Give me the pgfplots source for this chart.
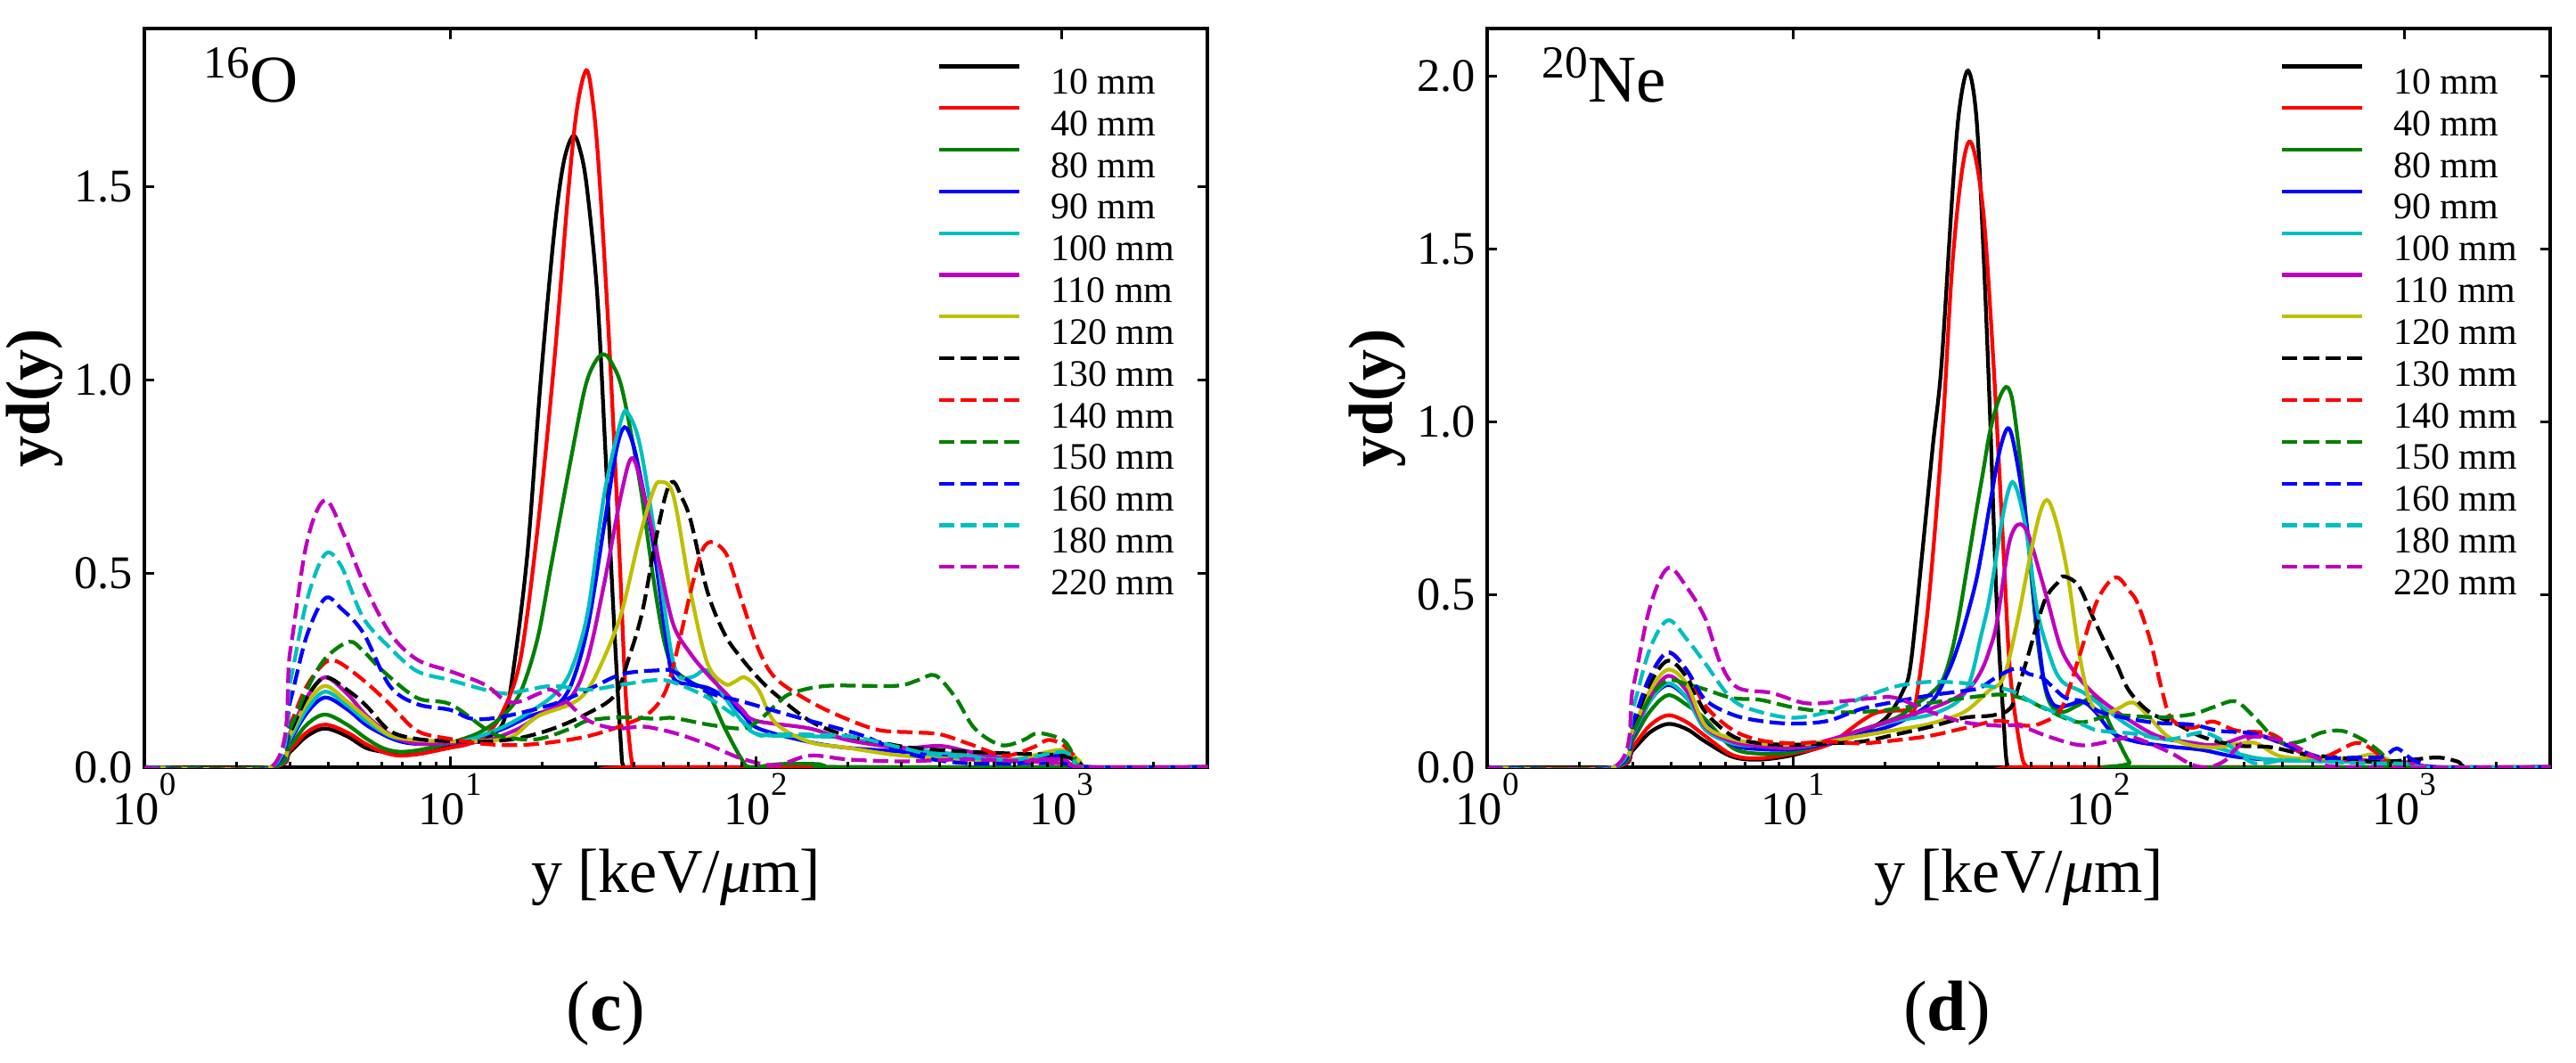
\documentclass[border=0pt]{standalone}
\usepackage{fontspec}
\setmainfont{Liberation Serif}
\usepackage{pgfplots}
\pgfplotsset{compat=1.18}

\definecolor{mplg}{rgb}{0,0.5,0}
\definecolor{mplc}{rgb}{0,0.75,0.75}
\definecolor{mplm}{rgb}{0.75,0,0.75}
\definecolor{mply}{rgb}{0.75,0.75,0}

\newcommand{\tk}[1]{10\raisebox{6.6pt}{\fontsize{7.4}{8}\selectfont #1}}

\pgfplotsset{
  legend image code/.code={\draw[line width=0.85pt, #1] (0pt,3.2pt) -- (18pt,3.2pt); \path (24.6pt,0pt);},
}

\begin{document}
\begin{tikzpicture}
\useasboundingbox (-32.4pt,-66.2pt) rectangle (545.8pt,172.2pt);

% ---------------- (c) 16O ----------------
\begin{axis}[
    scale only axis, width=238.6pt, height=165.8pt,
    xmode=log, xmin=1, xmax=3000, ymin=0, ymax=1.908,
    xtick={1,10,100,1000},
    xticklabels={\tk{0},\tk{1},\tk{2},\tk{3}},
    ytick={0,0.5,1,1.5}, yticklabels={0.0,0.5,1.0,1.5},
    tick align=inside,
    xtick pos=both, ytick pos=both,
    major tick length=2.3pt,
    minor tick length=0pt,
    every tick/.append style={black, line width=0.6pt},
    axis line style={line width=0.66pt},
    tick label style={font=\fontsize{10.5}{12}\selectfont},
    xticklabel style={anchor=north, inner sep=0pt, yshift=-1.2pt},
    yticklabel style={anchor=east, inner sep=0pt, xshift=-2.4pt},
    xlabel={y [keV/{\itshape μ}m]},
    ylabel={\textbf{yd(y)}},
    every axis x label/.style={at={(axis description cs:0.5,-0.170)}, anchor=base, font=\fontsize{14}{16}\selectfont, inner sep=0pt},
    every axis y label/.style={at={(axis description cs:-0.089,0.5)}, anchor=base, rotate=90, font=\fontsize{14}{16}\selectfont, inner sep=0pt},
    title={(\textbf{c})},
    every axis title/.style={at={(axis description cs:0.434,-0.357)}, anchor=base, font=\fontsize{16}{19}\selectfont, inner sep=0pt},
    legend style={at={(rel axis cs:0.746,0.9514)}, anchor=north west, draw=none, fill=none, inner sep=0pt, outer sep=0pt, row sep=2.74pt, font=\fontsize{8.4}{9}\selectfont, nodes={inner sep=0pt, text height=6pt, text depth=0pt}},
    legend cell align=left,
    every axis plot/.append style={line width=0.85pt, smooth, tension=0.55},
  ]
\addplot[black] coordinates {(1,0) (2.6,0) (3.0,0.04) (3.4,0.08) (3.9,0.10) (4.6,0.08) (5.3,0.05) (6.0,0.04) (6.8,0.032) (8.0,0.035) (10,0.053) (12,0.065) (13.5,0.08) (15,0.12) (16.1,0.25) (17.9,0.55) (19.8,1.0) (21.9,1.38) (23.5,1.56) (25.2,1.63) (26.5,1.60) (28,1.50) (30.3,1.22) (32.3,0.80) (34.4,0.37) (36.2,0.06) (37,0) (40,0) (3000,0)};
\addlegendentry{10 mm}
\addplot[red] coordinates {(1,0) (2.6,0) (3.0,0.045) (3.4,0.09) (3.9,0.11) (4.6,0.09) (5.3,0.06) (6.0,0.04) (6.8,0.03) (8.0,0.035) (10,0.05) (11.5,0.06) (13.1,0.083) (14.9,0.145) (17,0.28) (19.3,0.61) (21.9,1.045) (24.3,1.476) (26,1.70) (27.9,1.80) (29.3,1.72) (30.7,1.54) (33.1,1.107) (35.8,0.552) (37.6,0.18) (39.6,0) (42,0) (3000,0)};
\addlegendentry{40 mm}
\addplot[mplg] coordinates {(1,0) (2.6,0) (3.0,0.055) (3.4,0.11) (3.9,0.136) (4.6,0.11) (5.3,0.075) (6.0,0.05) (6.8,0.04) (8.0,0.045) (10.2,0.065) (12.5,0.09) (14.9,0.133) (17,0.194) (19.3,0.33) (21.4,0.52) (24.9,0.80) (27.7,0.983) (30,1.05) (32,1.066) (34,1.04) (36.7,0.97) (41.7,0.737) (46.2,0.49) (50,0.33) (53.8,0.256) (61.2,0.22) (69.5,0.194) (79.3,0.10) (90,0.02) (96,0) (120,0.008) (160,0.008) (200,0) (3000,0)};
\addlegendentry{80 mm}
\addplot[blue] coordinates {(1,0) (2.6,0) (3.0,0.07) (3.4,0.14) (3.9,0.18) (4.6,0.15) (5.3,0.11) (6.2,0.08) (7,0.065) (8,0.06) (10,0.063) (12,0.075) (15,0.10) (18,0.13) (21.8,0.155) (24.8,0.21) (28.2,0.362) (32,0.63) (35,0.82) (37.2,0.878) (39.5,0.84) (41.7,0.76) (46.2,0.576) (51.2,0.318) (53.8,0.23) (61.2,0.213) (69.5,0.205) (79.3,0.18) (90,0.14) (102,0.10) (150,0.065) (200,0.05) (300,0.04) (500,0.025) (700,0.015) (1000,0.03) (1150,0.01) (1250,0) (3000,0)};
\addlegendentry{90 mm}
\addplot[mplc] coordinates {(1,0) (2.6,0) (3.0,0.075) (3.4,0.15) (3.9,0.195) (4.6,0.16) (5.3,0.12) (6.2,0.085) (7,0.07) (8,0.062) (10,0.063) (12,0.075) (15,0.105) (18,0.14) (21.8,0.186) (24.8,0.248) (28.2,0.40) (32,0.708) (36.4,0.90) (38.4,0.911) (41.7,0.835) (46.2,0.626) (51.2,0.367) (53.8,0.27) (56.7,0.23) (62.9,0.235) (69.5,0.25) (79.3,0.18) (90,0.12) (102,0.085) (150,0.08) (200,0.075) (300,0.05) (500,0.03) (700,0.02) (1000,0.04) (1150,0.01) (1250,0) (3000,0)};
\addlegendentry{100 mm}
\addplot[mplm] coordinates {(1,0) (2.6,0) (3.0,0.09) (3.4,0.18) (3.9,0.232) (4.6,0.19) (5.3,0.135) (6.2,0.09) (7,0.07) (8,0.06) (10,0.063) (13,0.068) (16.8,0.10) (20,0.14) (24.8,0.18) (28.2,0.28) (32,0.478) (36.4,0.71) (39.6,0.798) (43.9,0.675) (48.7,0.515) (53.8,0.367) (61.2,0.293) (69.5,0.24) (80,0.19) (90,0.15) (100,0.12) (150,0.10) (200,0.07) (300,0.05) (400,0.055) (500,0.04) (700,0.02) (1000,0.02) (1200,0) (3000,0)};
\addlegendentry{110 mm}
\addplot[mply] coordinates {(1,0) (2.6,0) (3.0,0.085) (3.4,0.165) (3.9,0.21) (4.6,0.17) (5.3,0.13) (6.35,0.083) (7.8,0.07) (10,0.067) (13,0.068) (16,0.079) (19.2,0.13) (24.8,0.163) (28.2,0.20) (32,0.285) (36.4,0.40) (41.4,0.585) (46,0.71) (48.7,0.737) (53.8,0.70) (61.2,0.453) (69.5,0.268) (79.3,0.215) (85,0.22) (92,0.232) (102,0.20) (116,0.114) (150,0.065) (200,0.05) (300,0.03) (500,0.02) (700,0.02) (1000,0.045) (1150,0.015) (1250,0) (3000,0)};
\addlegendentry{120 mm}
\addplot[black, dash pattern=on 3.46pt off 1.4pt] coordinates {(1,0) (2.6,0) (3.0,0.09) (3.4,0.18) (3.9,0.232) (4.6,0.20) (5.3,0.16) (6.35,0.094) (7.8,0.073) (10,0.067) (13,0.066) (16.8,0.075) (21.8,0.10) (28.2,0.139) (34.6,0.186) (38.3,0.278) (42.5,0.40) (47,0.585) (51,0.71) (53.8,0.737) (57,0.70) (61.2,0.638) (69.5,0.453) (79.3,0.342) (90,0.28) (102,0.23) (116,0.188) (150,0.12) (195,0.083) (252,0.065) (325,0.05) (500,0.04) (700,0.035) (1000,0.03) (1150,0.01) (1250,0) (3000,0)};
\addlegendentry{130 mm}
\addplot[red, dash pattern=on 3.46pt off 1.4pt] coordinates {(1,0) (2.6,0) (3.0,0.11) (3.4,0.21) (3.9,0.27) (4.3,0.272) (5.2,0.225) (6.35,0.163) (7.8,0.094) (10,0.073) (13,0.06) (16.8,0.057) (21.8,0.065) (28.2,0.08) (36.4,0.107) (44.8,0.14) (50.9,0.20) (56,0.32) (61.2,0.453) (66,0.55) (70,0.58) (75,0.575) (81.3,0.54) (90,0.43) (102,0.305) (116,0.23) (150,0.17) (195,0.127) (252,0.096) (325,0.09) (400,0.085) (500,0.06) (650,0.03) (800,0.05) (900,0.07) (1000,0.06) (1100,0.03) (1200,0) (3000,0)};
\addlegendentry{140 mm}
\addplot[mplg, dash pattern=on 3.46pt off 1.4pt] coordinates {(1,0) (2.6,0) (3.0,0.10) (3.4,0.20) (3.9,0.28) (4.67,0.324) (5.2,0.30) (6.04,0.248) (7.8,0.179) (10,0.163) (13,0.10) (14.8,0.079) (19.2,0.072) (24.8,0.10) (28.2,0.12) (36.4,0.129) (47,0.125) (53.8,0.127) (70,0.11) (90,0.10) (102,0.12) (116,0.16) (130,0.19) (171,0.21) (286,0.21) (340,0.225) (387,0.237) (450,0.18) (520,0.10) (634,0.057) (750,0.07) (839,0.088) (1011,0.07) (1100,0.03) (1202,0) (3000,0)};
\addlegendentry{150 mm}
\addplot[blue, dash pattern=on 3.46pt off 1.4pt] coordinates {(1,0) (2.6,0) (3.0,0.17) (3.4,0.34) (3.9,0.436) (4.4,0.41) (5.2,0.347) (6.35,0.21) (7.8,0.163) (10,0.148) (11.8,0.125) (14.8,0.13) (21.8,0.163) (28.2,0.20) (36.4,0.24) (47.4,0.25) (53.8,0.247) (69.5,0.194) (90,0.17) (116,0.145) (150,0.12) (221,0.083) (286,0.046) (380,0.02) (500,0.01) (700,0.01) (1000,0.01) (1200,0) (3000,0)};
\addlegendentry{160 mm}
\addplot[mplc, dash pattern=on 3.46pt off 1.4pt] coordinates {(1,0) (2.6,0) (3.0,0.22) (3.4,0.43) (3.9,0.55) (4.4,0.52) (5.2,0.386) (6.35,0.309) (7.8,0.248) (10,0.225) (13,0.20) (15.2,0.19) (18,0.20) (21.8,0.21) (28.2,0.20) (36.4,0.213) (47,0.225) (53.8,0.219) (69.5,0.18) (90,0.12) (102,0.083) (116,0.085) (200,0.08) (300,0.05) (400,0.03) (700,0.02) (1000,0.04) (1100,0.02) (1200,0) (3000,0)};
\addlegendentry{180 mm}
\addplot[mplm, dash pattern=on 3.46pt off 1.4pt] coordinates {(1,0) (2.6,0) (3.0,0.30) (3.4,0.58) (3.9,0.69) (4.5,0.60) (5.2,0.478) (6.35,0.347) (7.8,0.278) (10,0.248) (13,0.213) (15.2,0.171) (17,0.17) (19.5,0.19) (21.5,0.20) (24,0.17) (28.4,0.12) (34.7,0.10) (41.7,0.105) (47,0.10) (56,0.085) (69.5,0.059) (90,0.022) (116,0.005) (150,0.03) (200,0.02) (300,0.015) (500,0.02) (1000,0.01) (1200,0) (3000,0)};
\addlegendentry{220 mm}
\node[anchor=base west, inner sep=0pt, font=\fontsize{15}{18}\selectfont] at (axis description cs:0.0553,0.900) {\raisebox{5.4pt}{\fontsize{10.3}{12}\selectfont 16}O};
\end{axis}
% minor ticks (bottom only)
\begin{axis}[
    scale only axis, width=238.6pt, height=165.8pt,
    xmode=log, xmin=1, xmax=3000, ymin=0, ymax=1,
    xtick={1,10,100,1000}, xticklabels={},
    minor xtick={2,3,4,5,6,7,8,9,20,30,40,50,60,70,80,90,200,300,400,500,600,700,800,900,2000},
    ytick=\empty, tick align=inside, xtick pos=left,
    major tick length=2.3pt, minor tick length=1.2pt,
    every tick/.append style={black, line width=0.6pt},
    axis line style={draw=none},
  ]
\end{axis}

% ---------------- (d) 20Ne ----------------
\begin{axis}[
    at={(301.4pt,0pt)}, anchor=south west,
    scale only axis, width=238.6pt, height=165.8pt,
    xmode=log, xmin=1, xmax=3000, ymin=0, ymax=2.137,
    xtick={1,10,100,1000},
    xticklabels={\tk{0},\tk{1},\tk{2},\tk{3}},
    ytick={0,0.5,1,1.5,2}, yticklabels={0.0,0.5,1.0,1.5,2.0},
    tick align=inside,
    xtick pos=both, ytick pos=both,
    major tick length=2.3pt,
    minor tick length=0pt,
    every tick/.append style={black, line width=0.6pt},
    axis line style={line width=0.66pt},
    tick label style={font=\fontsize{10.5}{12}\selectfont},
    xticklabel style={anchor=north, inner sep=0pt, yshift=-1.2pt},
    yticklabel style={anchor=east, inner sep=0pt, xshift=-2.4pt},
    xlabel={y [keV/{\itshape μ}m]},
    ylabel={\textbf{yd(y)}},
    every axis x label/.style={at={(axis description cs:0.5,-0.170)}, anchor=base, font=\fontsize{14}{16}\selectfont, inner sep=0pt},
    every axis y label/.style={at={(axis description cs:-0.089,0.5)}, anchor=base, rotate=90, font=\fontsize{14}{16}\selectfont, inner sep=0pt},
    title={(\textbf{d})},
    every axis title/.style={at={(axis description cs:0.4325,-0.357)}, anchor=base, font=\fontsize{16}{19}\selectfont, inner sep=0pt},
    legend style={at={(rel axis cs:0.746,0.9514)}, anchor=north west, draw=none, fill=none, inner sep=0pt, outer sep=0pt, row sep=2.74pt, font=\fontsize{8.4}{9}\selectfont, nodes={inner sep=0pt, text height=6pt, text depth=0pt}},
    legend cell align=left,
    every axis plot/.append style={line width=0.85pt, smooth, tension=0.55},
  ]
\addplot[black] coordinates {(1,0) (2.6,0) (3.0,0.05) (3.4,0.10) (3.9,0.125) (4.5,0.11) (5.17,0.074) (6.35,0.03) (7.8,0.022) (10,0.035) (13,0.065) (16.8,0.10) (20.2,0.143) (22.9,0.22) (24.3,0.30) (26.5,0.62) (28.7,0.93) (30.6,1.16) (33.2,1.65) (35,1.90) (37.4,2.015) (39.8,1.885) (41.9,1.515) (44.1,1.03) (46.4,0.48) (48.9,0.135) (50.5,0) (55,0) (3000,0)};
\addlegendentry{10 mm}
\addplot[red] coordinates {(1,0) (2.6,0) (3.0,0.06) (3.4,0.12) (3.9,0.15) (4.5,0.13) (5.17,0.09) (6.35,0.035) (7.8,0.026) (10,0.04) (13,0.065) (16.8,0.134) (19.2,0.16) (23.8,0.165) (25.1,0.176) (27.8,0.48) (30.8,0.963) (33.2,1.447) (35.9,1.736) (38.4,1.805) (41.9,1.612) (45.3,1.17) (48.9,0.618) (51.4,0.27) (55.6,0.05) (58.4,0) (65,0) (3000,0)};
\addlegendentry{40 mm}
\addplot[mplg] coordinates {(1,0) (2.6,0) (3.0,0.08) (3.4,0.16) (3.9,0.208) (4.5,0.18) (5.17,0.139) (6.35,0.056) (7.8,0.039) (10,0.043) (13,0.074) (16.8,0.108) (21.8,0.143) (25,0.18) (28,0.21) (30.8,0.25) (33,0.33) (35,0.44) (37.5,0.60) (39.8,0.74) (42,0.86) (44.1,0.97) (47,1.06) (49.8,1.10) (52,1.07) (54.2,0.96) (56.5,0.82) (58.4,0.687) (63.1,0.37) (68.2,0.20) (75.6,0.16) (86,0.18) (97.7,0.20) (111,0.11) (126,0.015) (135,0) (3000,0)};
\addlegendentry{80 mm}
\addplot[blue] coordinates {(1,0) (2.6,0) (3.0,0.09) (3.4,0.19) (3.9,0.238) (4.5,0.2) (5.17,0.126) (6.35,0.065) (7.8,0.052) (10,0.052) (13,0.069) (16.8,0.095) (21.8,0.126) (28.2,0.186) (32,0.27) (35,0.36) (38,0.47) (40,0.55) (42,0.65) (44.1,0.76) (47.6,0.92) (50.9,0.98) (54.2,0.88) (58.4,0.687) (62.2,0.45) (66,0.26) (70,0.19) (74.2,0.174) (80,0.18) (88.8,0.19) (97.7,0.16) (111,0.10) (131,0.075) (169,0.06) (218,0.05) (282,0.03) (400,0.02) (700,0.02) (1000,0.012) (1200,0) (3000,0)};
\addlegendentry{90 mm}
\addplot[mplc] coordinates {(1,0) (2.6,0) (3.0,0.095) (3.4,0.19) (3.9,0.243) (4.5,0.2) (5.17,0.108) (6.35,0.069) (7.8,0.061) (10,0.056) (13,0.074) (16.8,0.108) (21.8,0.134) (28.2,0.152) (34.6,0.19) (38,0.25) (41,0.37) (44,0.49) (47.6,0.68) (50,0.78) (52.3,0.825) (55,0.78) (58.4,0.665) (63.1,0.45) (68.8,0.33) (73,0.27) (78,0.24) (88.8,0.217) (103.5,0.174) (124,0.123) (148,0.088) (202,0.071) (248,0.054) (321,0.028) (400,0.02) (700,0.015) (1000,0.012) (1200,0) (3000,0)};
\addlegendentry{100 mm}
\addplot[mplm] coordinates {(1,0) (2.6,0) (3.0,0.1) (3.4,0.2) (3.9,0.264) (4.5,0.22) (5.17,0.117) (6.35,0.074) (7.8,0.061) (10,0.056) (13,0.078) (16.8,0.108) (21.8,0.139) (28.2,0.169) (34,0.2) (38,0.23) (41.4,0.28) (44,0.34) (46.5,0.42) (50.5,0.63) (53,0.69) (55.6,0.703) (58.5,0.68) (61.5,0.62) (68.2,0.48) (75.6,0.34) (86,0.26) (100,0.2) (124,0.14) (156,0.09) (202,0.07) (248,0.065) (321,0.094) (394,0.071) (500,0.03) (700,0.02) (1000,0.015) (1300,0) (3000,0)};
\addlegendentry{110 mm}
\addplot[mply] coordinates {(1,0) (2.6,0) (3.0,0.11) (3.4,0.22) (3.9,0.282) (4.5,0.24) (5.17,0.121) (6.35,0.082) (7.8,0.069) (10,0.065) (13,0.074) (16.8,0.091) (21.8,0.108) (28.2,0.126) (36.4,0.16) (43.6,0.22) (48.9,0.26) (54.2,0.42) (60,0.62) (64.8,0.745) (68.6,0.77) (73.7,0.69) (79.5,0.55) (86,0.34) (92.9,0.2) (100,0.16) (105,0.153) (116,0.17) (130,0.187) (148,0.14) (169,0.088) (202,0.063) (248,0.058) (321,0.071) (400,0.03) (600,0.025) (693,0.028) (788,0.037) (895,0.02) (1000,0) (3000,0)};
\addlegendentry{120 mm}
\addplot[black, dash pattern=on 3.46pt off 1.4pt] coordinates {(1,0) (2.6,0) (3.0,0.12) (3.4,0.24) (3.9,0.308) (4.5,0.26) (5.17,0.16) (6.35,0.09) (7.8,0.069) (10,0.065) (13,0.069) (16.8,0.074) (21.8,0.095) (28.2,0.117) (36.4,0.143) (45,0.15) (51.4,0.17) (55,0.24) (58.4,0.314) (66.5,0.48) (73.7,0.535) (77,0.552) (86,0.525) (96,0.432) (111,0.314) (115,0.294) (126,0.22) (148,0.157) (182,0.123) (218,0.088) (282,0.063) (365,0.058) (471,0.037) (610,0.028) (788,0.016) (1018,0.02) (1284,0.028) (1497,0.016) (1650,0) (3000,0)};
\addlegendentry{130 mm}
\addplot[red, dash pattern=on 3.46pt off 1.4pt] coordinates {(1,0) (2.6,0) (3.0,0.13) (3.4,0.26) (3.9,0.332) (4.5,0.28) (5.17,0.178) (6.35,0.108) (7.8,0.078) (10,0.069) (13,0.074) (16.8,0.069) (21.8,0.078) (28.2,0.091) (36.4,0.113) (47,0.134) (58,0.12) (66,0.13) (75.6,0.17) (86,0.314) (97.7,0.47) (108,0.535) (116,0.548) (126,0.51) (134,0.475) (148,0.363) (160,0.234) (173,0.14) (202,0.114) (236,0.132) (282,0.106) (365,0.097) (437,0.054) (536,0.028) (693,0.07) (788,0.05) (895,0.007) (950,0) (3000,0)};
\addlegendentry{140 mm}
\addplot[mplg, dash pattern=on 3.46pt off 1.4pt] coordinates {(1,0) (2.6,0) (3.0,0.1) (3.4,0.2) (3.9,0.251) (4.5,0.24) (5.17,0.225) (6.35,0.2) (7.8,0.195) (10,0.173) (13,0.16) (16.8,0.16) (21.8,0.169) (28.2,0.186) (36.4,0.20) (47,0.21) (56,0.2) (66.5,0.17) (86,0.13) (111,0.15) (156,0.144) (202,0.153) (240,0.175) (281,0.19) (327,0.14) (360,0.1) (400,0.07) (460,0.075) (536,0.1) (626,0.105) (730,0.08) (830,0.045) (900,0.01) (950,0) (3000,0)};
\addlegendentry{150 mm}
\addplot[blue, dash pattern=on 3.46pt off 1.4pt] coordinates {(1,0) (2.6,0) (3.0,0.13) (3.4,0.26) (3.9,0.332) (4.5,0.28) (5.17,0.195) (6.35,0.152) (7.8,0.134) (10,0.126) (13,0.134) (16.8,0.169) (21.8,0.19) (28.2,0.208) (36.4,0.221) (41,0.23) (47,0.264) (54.2,0.287) (59,0.27) (65.1,0.26) (70.4,0.234) (78.1,0.2) (88.8,0.19) (103.5,0.157) (148,0.13) (202,0.123) (248,0.105) (321,0.097) (415,0.063) (536,0.028) (700,0.028) (850,0.03) (944,0.054) (1050,0.025) (1150,0.01) (1300,0) (3000,0)};
\addlegendentry{160 mm}
\addplot[mplc, dash pattern=on 3.46pt off 1.4pt] coordinates {(1,0) (2.6,0) (3.0,0.17) (3.4,0.34) (3.9,0.425) (4.5,0.37) (5.17,0.3) (6.35,0.195) (7.8,0.16) (10,0.143) (13,0.16) (16.8,0.2) (21.8,0.234) (28.2,0.247) (36.4,0.243) (47,0.23) (53,0.217) (60,0.19) (68.8,0.166) (88.8,0.123) (100,0.106) (130,0.097) (169,0.08) (218,0.1) (260,0.071) (321,0.012) (415,0.02) (700,0.012) (1000,0.01) (1200,0) (3000,0)};
\addlegendentry{180 mm}
\addplot[mplm, dash pattern=on 3.46pt off 1.4pt] coordinates {(1,0) (2.6,0) (3.0,0.23) (3.4,0.46) (3.9,0.576) (4.5,0.52) (5.17,0.43) (5.8,0.3) (6.6,0.23) (8.5,0.215) (11,0.185) (14.2,0.19) (18.4,0.2) (21.8,0.2) (28.2,0.16) (36.4,0.13) (47,0.12) (55,0.12) (68.8,0.088) (88.8,0.063) (115,0.08) (130,0.086) (169,0.045) (202,0.007) (230,0) (260,0.02) (282,0.054) (321,0.088) (415,0.071) (536,0.02) (650,0) (3000,0)};
\addlegendentry{220 mm}
\node[anchor=base west, inner sep=0pt, font=\fontsize{15}{18}\selectfont] at (axis description cs:0.0511,0.901) {\raisebox{5.4pt}{\fontsize{10.3}{12}\selectfont 20}Ne};
\end{axis}
\begin{axis}[
    at={(301.4pt,0pt)}, anchor=south west,
    scale only axis, width=238.6pt, height=165.8pt,
    xmode=log, xmin=1, xmax=3000, ymin=0, ymax=1,
    xtick={1,10,100,1000}, xticklabels={},
    minor xtick={2,3,4,5,6,7,8,9,20,30,40,50,60,70,80,90,200,300,400,500,600,700,800,900,2000},
    ytick=\empty, tick align=inside, xtick pos=left,
    major tick length=2.3pt, minor tick length=1.2pt,
    every tick/.append style={black, line width=0.6pt},
    axis line style={draw=none},
  ]
\end{axis}
\end{tikzpicture}
\end{document}
